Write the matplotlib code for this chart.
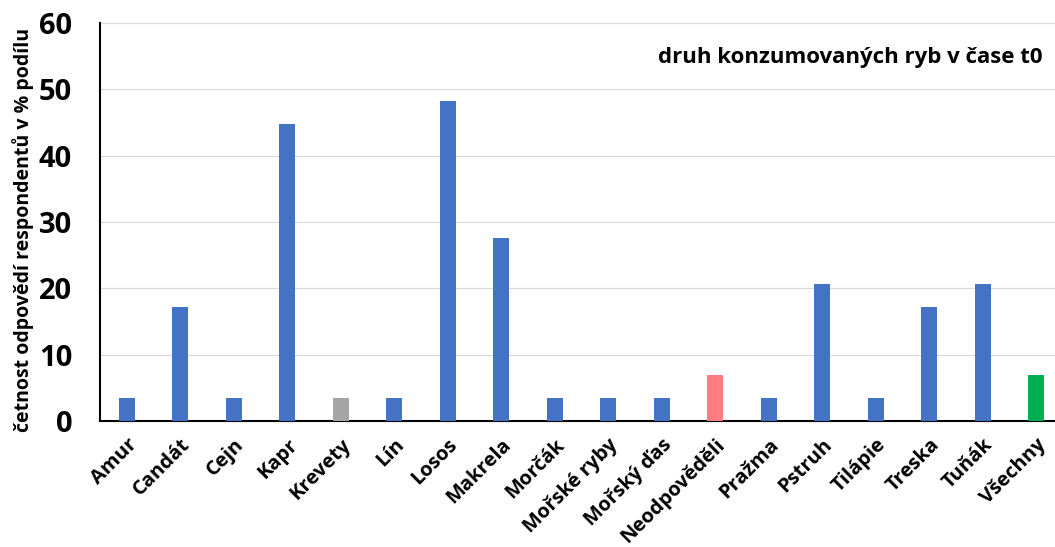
import matplotlib.pyplot as plt
import numpy as np

plt.rcParams['font.family'] = ['Open Sans', 'DejaVu Sans']
plt.rcParams['font.weight'] = 'bold'

druhy = ["Amur", "Candát", "Cejn", "Kapr", "Krevety", "Lín", "Losos", "Makrela",
         "Morčák", "Mořské ryby", "Mořský ďas", "Neodpověděli", "Pražma",
         "Pstruh", "Tilápie", "Treska", "Tuňák", "Všechny"]
podil = [3.45, 17.24, 3.45, 44.83, 3.45, 3.45, 48.28, 27.59, 3.45, 3.45, 3.45,
         6.9, 3.45, 20.69, 3.45, 17.24, 20.69, 6.9]
barvy = ["#4472C4"] * len(druhy)
barvy[4] = "#A5A5A5"
barvy[11] = "#FF7C80"
barvy[17] = "#00B050"

fig = plt.figure(figsize=(10.55, 5.47), dpi=100)
ax = fig.add_axes([100 / 1055, 126 / 547, 963 / 1055, 398 / 547])

x = np.arange(len(druhy))
ax.bar(x, podil, width=0.3, color=barvy, zorder=3)

ax.set_xlim(-0.5, len(druhy) - 0.5)
ax.set_ylim(0, 60)
ax.set_yticks(range(0, 61, 10))
ax.yaxis.grid(True, color="#D9D9D9", linewidth=0.8, zorder=0)
ax.tick_params(axis="y", length=0, labelsize=21, pad=20)
ax.tick_params(axis="x", length=0, labelsize=14.5, pad=10)
ax.set_xticks(x)
ax.set_xticklabels(druhy, rotation=45, ha="right", rotation_mode="anchor")
for lbl in ax.get_yticklabels() + ax.get_xticklabels():
    lbl.set_fontweight("bold")

for s in ["top", "right"]:
    ax.spines[s].set_visible(False)
ax.spines["left"].set_linewidth(1.5)
ax.spines["bottom"].set_linewidth(1.5)

ax.set_ylabel("četnost odpovědí respondentů v % podílu", fontsize=14,
              fontweight="bold")
ax.yaxis.set_label_coords(-0.069, 0.48)
ax.text(1043 / 1055, 0.894, "druh konzumovaných ryb v čase t0",
        transform=fig.transFigure, ha="right", va="center",
        fontsize=16, fontweight="bold")

fig.savefig("out.png", dpi=100)
